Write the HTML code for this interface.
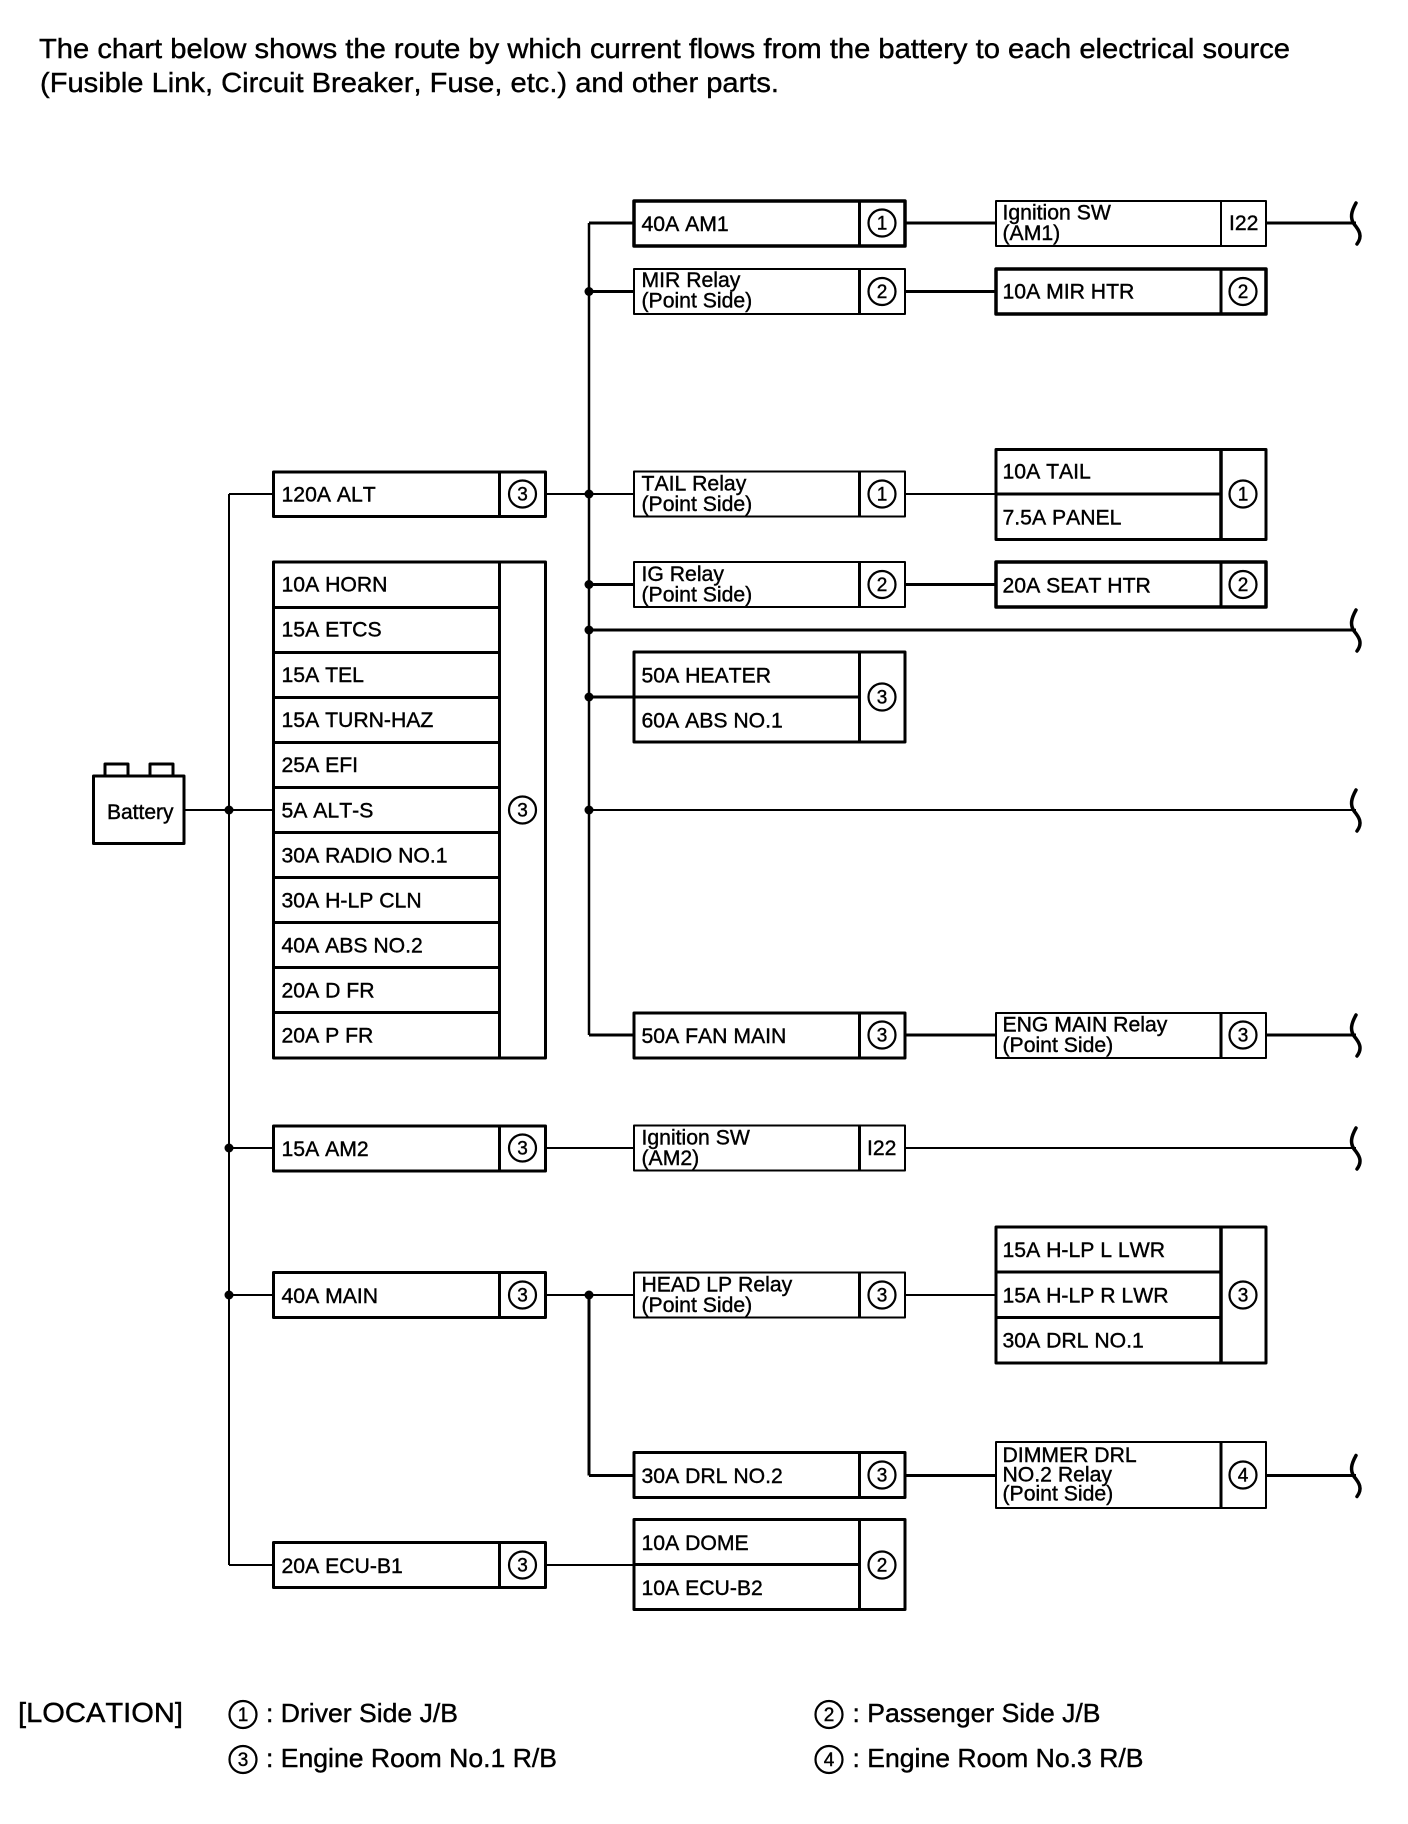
<!DOCTYPE html>
<html><head><meta charset="utf-8"><title>Power source chart</title>
<style>
html,body{margin:0;padding:0;background:#fff}
svg{display:block}
text{font-family:"Liberation Sans",Arial,sans-serif;font-size:21.2px;fill:#000;stroke:#000;stroke-width:.4;font-kerning:none}
.n{font-size:19px;text-anchor:middle}
.h{font-size:28px}
.l{font-size:26px}
rect,line,path.b,circle{fill:none;stroke:#000}
rect{fill:#fff;stroke-linejoin:round}
circle.c{fill:none;stroke-width:2.2}
circle.d{fill:#000;stroke:none}
.t1{stroke-width:3.5}.t2{stroke-width:3}.t3{stroke-width:2}
line{stroke-width:2}
line.w{stroke-width:3}
path.b{stroke-width:3.5;stroke-linecap:round}
</style></head><body>
<svg xmlns="http://www.w3.org/2000/svg" width="1408" height="1824" viewBox="0 0 1408 1824">
<rect x="0" y="0" width="1408" height="1824" style="stroke:none"/>
<text class="h" x="39" y="58" textLength="1251" lengthAdjust="spacingAndGlyphs">The chart below shows the route by which current flows from the battery to each electrical source</text>
<text class="h" x="40" y="92" textLength="739" lengthAdjust="spacingAndGlyphs">(Fusible Link, Circuit Breaker, Fuse, etc.) and other parts.</text>

<!-- connectors -->
<line x1="185" y1="810" x2="273" y2="810"/>
<line x1="229" y1="494" x2="229" y2="1565"/>
<line x1="229" y1="494" x2="273" y2="494"/>
<line x1="229" y1="1148" x2="273" y2="1148"/>
<line x1="229" y1="1295" x2="273" y2="1295"/>
<line x1="229" y1="1565" x2="273" y2="1565"/>
<line x1="589" y1="223" x2="589" y2="1035" class="w" style="stroke-width:2.5"/>
<line x1="589" y1="223" x2="634" y2="223" class="w"/>
<line x1="589" y1="291.5" x2="634" y2="291.5" class="w"/>
<line x1="546" y1="494" x2="634" y2="494"/>
<line x1="589" y1="584.5" x2="634" y2="584.5" class="w"/>
<line x1="589" y1="630" x2="1356" y2="630" class="w"/>
<line x1="589" y1="697" x2="634" y2="697" class="w"/>
<line x1="589" y1="810" x2="1356" y2="810"/>
<line x1="589" y1="1035" x2="634" y2="1035" class="w"/>
<line x1="905" y1="223" x2="996" y2="223" class="w"/>
<line x1="1266" y1="223" x2="1356" y2="223" class="w"/>
<line x1="905" y1="291.5" x2="996" y2="291.5" class="w"/>
<line x1="905" y1="494" x2="996" y2="494"/>
<line x1="905" y1="584.5" x2="996" y2="584.5" class="w"/>
<line x1="905" y1="1035" x2="996" y2="1035" class="w"/>
<line x1="1266" y1="1035" x2="1356" y2="1035" class="w"/>
<line x1="546" y1="1148" x2="634" y2="1148"/>
<line x1="905" y1="1148" x2="1356" y2="1148"/>
<line x1="546" y1="1295" x2="634" y2="1295"/>
<line x1="905" y1="1295" x2="996" y2="1295"/>
<line x1="589" y1="1295" x2="589" y2="1475.5" class="w"/>
<line x1="589" y1="1475.5" x2="634" y2="1475.5" class="w"/>
<line x1="905" y1="1475.5" x2="996" y2="1475.5" class="w"/>
<line x1="1266" y1="1475.5" x2="1356" y2="1475.5" class="w"/>
<line x1="546" y1="1565" x2="634" y2="1565"/>

<!-- junctions -->
<circle class="d" cx="229" cy="810" r="4.5"/><circle class="d" cx="229" cy="1148" r="4.5"/><circle class="d" cx="229" cy="1295" r="4.5"/>
<circle class="d" cx="589" cy="291.5" r="4.5"/><circle class="d" cx="589" cy="494" r="4.5"/><circle class="d" cx="589" cy="584.5" r="4.5"/><circle class="d" cx="589" cy="630" r="4.5"/><circle class="d" cx="589" cy="697" r="4.5"/><circle class="d" cx="589" cy="810" r="4.5"/><circle class="d" cx="589" cy="1295" r="4.5"/>

<!-- brackets -->
<path class="b" d="M1356 203C1351 212 1350 218 1354 224C1359 230 1363 236 1357 244"/>
<path class="b" d="M1356 610C1351 619 1350 625 1354 631C1359 637 1363 643 1357 651"/>
<path class="b" d="M1356 790C1351 799 1350 805 1354 811C1359 817 1363 823 1357 831"/>
<path class="b" d="M1356 1015C1351 1024 1350 1030 1354 1036C1359 1042 1363 1048 1357 1056"/>
<path class="b" d="M1356 1128C1351 1137 1350 1143 1354 1149C1359 1155 1363 1161 1357 1169"/>
<path class="b" d="M1356 1455.5C1351 1464.5 1350 1470.5 1354 1476.5C1359 1482.5 1363 1488.5 1357 1496.5"/>

<!-- battery -->
<rect class="t2" x="105" y="764" width="23" height="14"/>
<rect class="t2" x="150" y="764" width="23" height="14"/>
<rect class="t2" x="93.5" y="776" width="90.5" height="67.5"/>
<text x="107" y="819" style="font-size:21px">Battery</text>

<!-- column 1 -->
<rect class="t2" x="273.5" y="472" width="272" height="44.5"/><line class="w" x1="499.5" y1="472" x2="499.5" y2="516"/>
<circle class="c" cx="522.5" cy="494" r="13.5"/><text class="n" x="522.5" y="500.5">3</text>
<text x="281.5" y="501.5">120A ALT</text>

<rect class="t2" x="273.5" y="562" width="272" height="496"/>
<line class="w" x1="499.5" y1="562" x2="499.5" y2="1058"/>
<line class="w" x1="273.5" y1="607.5" x2="499.5" y2="607.5"/>
<line class="w" x1="273.5" y1="652.5" x2="499.5" y2="652.5"/>
<line class="w" x1="273.5" y1="697.5" x2="499.5" y2="697.5"/>
<line class="w" x1="273.5" y1="742.5" x2="499.5" y2="742.5"/>
<line class="w" x1="273.5" y1="787.5" x2="499.5" y2="787.5"/>
<line class="w" x1="273.5" y1="832.5" x2="499.5" y2="832.5"/>
<line class="w" x1="273.5" y1="877.5" x2="499.5" y2="877.5"/>
<line class="w" x1="273.5" y1="922.5" x2="499.5" y2="922.5"/>
<line class="w" x1="273.5" y1="967.5" x2="499.5" y2="967.5"/>
<line class="w" x1="273.5" y1="1012.5" x2="499.5" y2="1012.5"/>
<circle class="c" cx="522.5" cy="810" r="13.5"/><text class="n" x="522.5" y="816.5">3</text>
<text x="281.5" y="591.5">10A HORN</text>
<text x="281.5" y="636.5">15A ETCS</text>
<text x="281.5" y="682">15A TEL</text>
<text x="281.5" y="727">15A TURN-HAZ</text>
<text x="281.5" y="772">25A EFI</text>
<text x="281.5" y="817.5">5A ALT-S</text>
<text x="281.5" y="862.5">30A RADIO NO.1</text>
<text x="281.5" y="907.5">30A H-LP CLN</text>
<text x="281.5" y="952.5">40A ABS NO.2</text>
<text x="281.5" y="997.5">20A D FR</text>
<text x="281.5" y="1042.5">20A P FR</text>

<rect class="t2" x="273.5" y="1126" width="272" height="45"/><line class="w" x1="499.5" y1="1126" x2="499.5" y2="1171"/>
<circle class="c" cx="522.5" cy="1148" r="13.5"/><text class="n" x="522.5" y="1154.5">3</text>
<text x="281.5" y="1156">15A AM2</text>

<rect class="t2" x="273.5" y="1272.5" width="272" height="45"/><line class="w" x1="499.5" y1="1272.5" x2="499.5" y2="1317.5"/>
<circle class="c" cx="522.5" cy="1295" r="13.5"/><text class="n" x="522.5" y="1301.5">3</text>
<text x="281.5" y="1303">40A MAIN</text>

<rect class="t2" x="273.5" y="1542.5" width="272" height="45"/><line class="w" x1="499.5" y1="1542.5" x2="499.5" y2="1587.5"/>
<circle class="c" cx="522.5" cy="1565" r="13.5"/><text class="n" x="522.5" y="1571.5">3</text>
<text x="281.5" y="1573">20A ECU-B1</text>

<!-- column 2 -->
<rect class="t1" x="634" y="201" width="271" height="45"/><line class="w" x1="859.5" y1="201" x2="859.5" y2="246"/>
<circle class="c" cx="882" cy="223" r="13.5"/><text class="n" x="882" y="229.5">1</text>
<text x="641.5" y="231">40A AM1</text>

<rect class="t3" x="634" y="269" width="271" height="45"/><line class="w" x1="859.5" y1="269" x2="859.5" y2="314"/>
<circle class="c" cx="882" cy="291.5" r="13.5"/><text class="n" x="882" y="298">2</text>
<text x="641.5" y="287">MIR Relay</text><text x="641.5" y="307.5">(Point Side)</text>

<rect class="t3" x="634" y="471.5" width="271" height="45"/><line class="w" x1="859.5" y1="471.5" x2="859.5" y2="516.5"/>
<circle class="c" cx="882" cy="494" r="13.5"/><text class="n" x="882" y="500.5">1</text>
<text x="641.5" y="490.5">TAIL Relay</text><text x="641.5" y="511">(Point Side)</text>

<rect class="t3" x="634" y="562" width="271" height="45"/><line class="w" x1="859.5" y1="562" x2="859.5" y2="607"/>
<circle class="c" cx="882" cy="584.5" r="13.5"/><text class="n" x="882" y="591">2</text>
<text x="641.5" y="581">IG Relay</text><text x="641.5" y="601.5">(Point Side)</text>

<rect class="t2" x="634" y="652" width="271" height="90"/><line class="w" x1="859.5" y1="652" x2="859.5" y2="742"/><line class="w" x1="634" y1="697" x2="859.5" y2="697"/>
<circle class="c" cx="882" cy="697" r="13.5"/><text class="n" x="882" y="703.5">3</text>
<text x="641.5" y="682.5">50A HEATER</text><text x="641.5" y="727.5">60A ABS NO.1</text>

<rect class="t2" x="634" y="1013" width="271" height="45"/><line class="w" x1="859.5" y1="1013" x2="859.5" y2="1058"/>
<circle class="c" cx="882" cy="1035" r="13.5"/><text class="n" x="882" y="1041.5">3</text>
<text x="641.5" y="1043">50A FAN MAIN</text>

<rect class="t3" x="634" y="1125.5" width="271" height="45"/><line class="w" x1="859.5" y1="1125.5" x2="859.5" y2="1170.5"/>
<text x="641.5" y="1144.5">Ignition SW</text><text x="641.5" y="1165">(AM2)</text>
<text x="867" y="1155">I22</text>

<rect class="t3" x="634" y="1272.5" width="271" height="45"/><line class="w" x1="859.5" y1="1272.5" x2="859.5" y2="1317.5"/>
<circle class="c" cx="882" cy="1295" r="13.5"/><text class="n" x="882" y="1301.5">3</text>
<text x="641.5" y="1291.5">HEAD LP Relay</text><text x="641.5" y="1312">(Point Side)</text>

<rect class="t2" x="634" y="1452.5" width="271" height="45"/><line class="w" x1="859.5" y1="1452.5" x2="859.5" y2="1497.5"/>
<circle class="c" cx="882" cy="1475" r="13.5"/><text class="n" x="882" y="1481.5">3</text>
<text x="641.5" y="1483">30A DRL NO.2</text>

<rect class="t2" x="634" y="1519.5" width="271" height="90"/><line class="w" x1="859.5" y1="1519.5" x2="859.5" y2="1609.5"/><line class="w" x1="634" y1="1564.5" x2="859.5" y2="1564.5"/>
<circle class="c" cx="882" cy="1565" r="13.5"/><text class="n" x="882" y="1571.5">2</text>
<text x="641.5" y="1550">10A DOME</text><text x="641.5" y="1595">10A ECU-B2</text>

<!-- column 3 -->
<rect class="t3" x="996" y="201" width="270" height="45"/><line class="t3" x1="1221" y1="201" x2="1221" y2="246"/>
<text x="1002.5" y="219.5">Ignition SW</text><text x="1002.5" y="240">(AM1)</text>
<text x="1229" y="230">I22</text>

<rect class="t1" x="996" y="269" width="270" height="45"/><line class="w" x1="1221" y1="269" x2="1221" y2="314"/>
<circle class="c" cx="1243" cy="291.5" r="13.5"/><text class="n" x="1243" y="298">2</text>
<text x="1002.5" y="298.5">10A MIR HTR</text>

<rect class="t2" x="996" y="449.5" width="270" height="90"/><line class="t1" x1="1221" y1="449.5" x2="1221" y2="539.5"/><line class="w" x1="996" y1="494" x2="1221" y2="494"/>
<circle class="c" cx="1243" cy="494" r="13.5"/><text class="n" x="1243" y="500.5">1</text>
<text x="1002.5" y="478.5">10A TAIL</text><text x="1002.5" y="524.5">7.5A PANEL</text>

<rect class="t1" x="996" y="562" width="270" height="45"/><line class="w" x1="1221" y1="562" x2="1221" y2="607"/>
<circle class="c" cx="1243" cy="584.5" r="13.5"/><text class="n" x="1243" y="591">2</text>
<text x="1002.5" y="592.5">20A SEAT HTR</text>

<rect class="t3" x="996" y="1013" width="270" height="45"/><line class="w" x1="1221" y1="1013" x2="1221" y2="1058"/>
<circle class="c" cx="1243" cy="1035" r="13.5"/><text class="n" x="1243" y="1041.5">3</text>
<text x="1002.5" y="1031.5">ENG MAIN Relay</text><text x="1002.5" y="1052">(Point Side)</text>

<rect class="t2" x="996" y="1227" width="270" height="136"/><line class="t1" x1="1221" y1="1227" x2="1221" y2="1363"/><line class="w" x1="996" y1="1272" x2="1221" y2="1272"/><line class="w" x1="996" y1="1317.5" x2="1221" y2="1317.5"/>
<circle class="c" cx="1243" cy="1295" r="13.5"/><text class="n" x="1243" y="1301.5">3</text>
<text x="1002.5" y="1257">15A H-LP L LWR</text><text x="1002.5" y="1302.5">15A H-LP R LWR</text><text x="1002.5" y="1347.5">30A DRL NO.1</text>

<rect class="t3" x="996" y="1442" width="270" height="66"/><line class="w" x1="1221" y1="1442" x2="1221" y2="1508"/>
<circle class="c" cx="1243" cy="1475" r="13.5"/><text class="n" x="1243" y="1481.5">4</text>
<text x="1002.5" y="1462">DIMMER DRL</text><text x="1002.5" y="1481.5">NO.2 Relay</text><text x="1002.5" y="1500.5">(Point Side)</text>

<!-- legend -->
<text class="h" x="18" y="1722" textLength="165" lengthAdjust="spacingAndGlyphs">[LOCATION]</text>
<circle class="c" cx="243" cy="1714.5" r="13.5"/><text class="n" x="243" y="1721">1</text>
<text class="l" x="266" y="1722" textLength="192" lengthAdjust="spacingAndGlyphs">: Driver Side J/B</text>
<circle class="c" cx="243" cy="1759.5" r="13.5"/><text class="n" x="243" y="1766">3</text>
<text class="l" x="266" y="1767" textLength="291" lengthAdjust="spacingAndGlyphs">: Engine Room No.1 R/B</text>
<circle class="c" cx="829" cy="1714.5" r="13.5"/><text class="n" x="829" y="1721">2</text>
<text class="l" x="852.5" y="1722" textLength="248" lengthAdjust="spacingAndGlyphs">: Passenger Side J/B</text>
<circle class="c" cx="829" cy="1759.5" r="13.5"/><text class="n" x="829" y="1766">4</text>
<text class="l" x="852.5" y="1767" textLength="291" lengthAdjust="spacingAndGlyphs">: Engine Room No.3 R/B</text>
</svg>
</body></html>
